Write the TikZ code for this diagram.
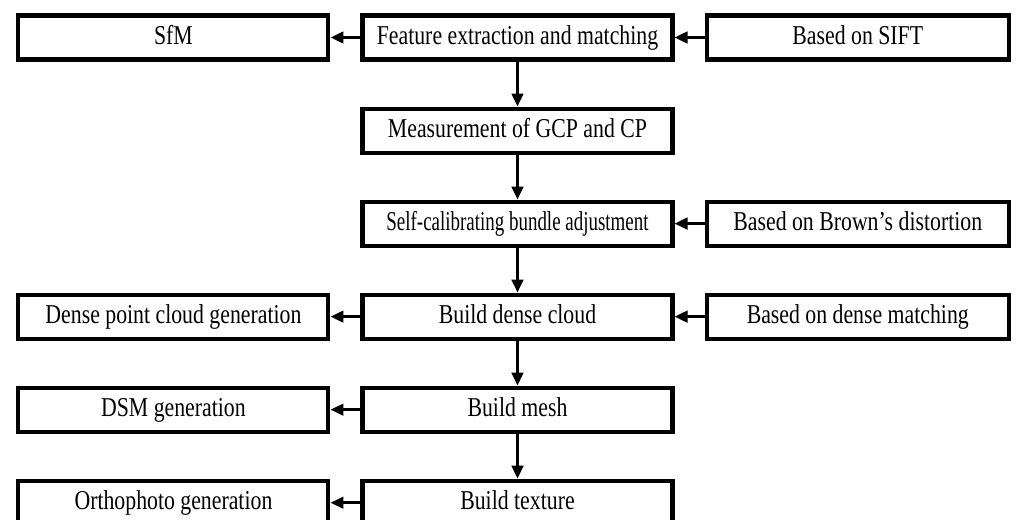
\documentclass[tikz,border=0pt]{standalone}
\usepackage{fontspec}
\setmainfont{Liberation Serif}[FakeStretch=0.8]
\usetikzlibrary{positioning,arrows.meta}
\begin{document}
\begin{tikzpicture}[node distance={0.9cm and 0.6cm}, line width=2.3pt, >={Triangle[length=2.6mm,width=2.3mm]},
        main/.style = {draw, rectangle, minimum width=6.2cm, minimum height=0.88cm, inner sep=0pt, text height=0.84em, text depth=0.06em, font=\fontsize{15.5}{18}\selectfont},
        side/.style = {main, minimum width=6.05cm},
        link/.style = {->, line width=1.7pt}]
        \useasboundingbox (0,0) rectangle (20.48,10.38);

        \node[main] (feat) at (10.35,9.63)   {Feature extraction and matching};
        \node[main] (sfm)    [left=of feat]   {SfM};
        \node[side] (sift)   [right=of feat]  {Based on SIFT};
        \node[main] (gcp)    [below=of feat]  {Measurement of GCP and CP};
        \node[main] (bundle) [below=of gcp]   {\scalebox{0.87}[1]{Self-calibrating bundle adjustment}};
        \node[side] (brown)  [right=of bundle] {Based on Brown’s distortion};
        \node[main] (dense)  [below=of bundle] {Build dense cloud};
        \node[main] (cloud)  [left=of dense]  {Dense point cloud generation};
        \node[side] (match)  [right=of dense] {Based on dense matching};
        \node[main] (mesh)   [below=of dense] {Build mesh};
        \node[main] (dsm)    [left=of mesh]   {DSM generation};
        \node[main] (tex)    [below=of mesh]  {Build texture};
        \node[main] (ortho)  [left=of tex]    {Orthophoto generation};

        % main chain
        \draw[link] (feat) -- (gcp);
        \draw[link] (gcp) -- (bundle);
        \draw[link] (bundle) -- (dense);
        \draw[link] (dense) -- (mesh);
        \draw[link] (mesh) -- (tex);

        % inputs and outputs
        \draw[link] (sift) -- (feat);
        \draw[link] (feat) -- (sfm);
        \draw[link] (brown) -- (bundle);
        \draw[link] (match) -- (dense);
        \draw[link] (dense) -- (cloud);
        \draw[link] (mesh) -- (dsm);
        \draw[link] (tex) -- (ortho);

    \end{tikzpicture}
\end{document}
